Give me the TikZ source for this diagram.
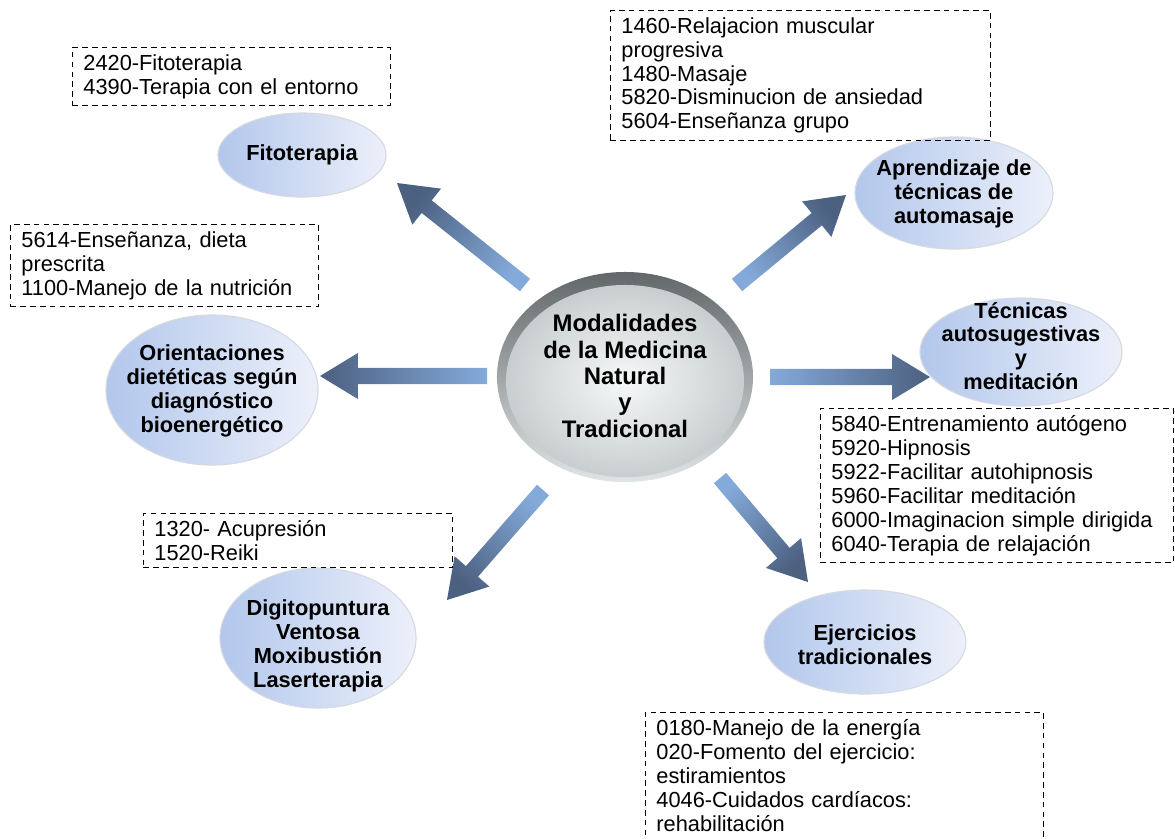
\documentclass[tikz,border=0pt]{standalone}
\usepackage{fontspec}
\setmainfont{Liberation Sans}
\usetikzlibrary{shapes.geometric,calc}

\definecolor{azulelipse}{RGB}{178,199,236}
\definecolor{blancoelipse}{RGB}{236,240,250}
\definecolor{bordeelipse}{RGB}{214,217,224}
\definecolor{flechaclara}{RGB}{132,170,218}
\definecolor{flechaoscura}{RGB}{76,96,128}
\definecolor{anillooscuro}{RGB}{98,104,106}
\definecolor{anilloclaro}{RGB}{224,228,229}
\definecolor{centroclaro}{RGB}{246,248,248}
\definecolor{centrogris}{RGB}{200,206,207}

\tikzset{
  modalidad/.style={ellipse, draw=bordeelipse, line width=0.8pt,
    left color=azulelipse, right color=blancoelipse, inner sep=0pt},
  rotulo/.style={align=center, inner sep=0pt,
    font=\bfseries\fontsize{15.5}{17}\selectfont},
  codigos/.style={draw, dash pattern=on 4pt off 3pt, line width=0.6pt,
    anchor=north west, inner xsep=0.275cm, inner ysep=5pt, align=left,
    font=\fontsize{15.5}{17}\selectfont}
}

% flecha gruesa: cola, punta, angulo del sombreado
\newcommand{\flecha}[3]{%
  \path ($(#2)!27pt!(#1)$) coordinate (cuello);
  \shade[bottom color=flechaclara, top color=flechaoscura, shading angle=#3]
    ($(#1)!5.7pt!90:(#2)$) -- ($(cuello)!5.7pt!-90:(#1)$)
    -- ($(cuello)!16.4pt!-90:(#1)$) -- (#2) -- ($(cuello)!16.4pt!90:(#1)$)
    -- ($(cuello)!5.7pt!90:(#1)$) -- ($(#1)!5.7pt!-90:(#2)$) -- cycle;
}

\begin{document}
\begin{tikzpicture}[x=0.025cm, y=-0.025cm]
\useasboundingbox (0,0) rectangle (1175,838);
\clip (0,0) rectangle (1175,838);

% flechas
\coordinate (fito-cola) at (525,285);
\coordinate (fito-punta) at (397,183);
\coordinate (apren-cola) at (737,285);
\coordinate (apren-punta) at (846,195);
\coordinate (tecn-cola) at (770,377);
\coordinate (tecn-punta) at (930,377);
\coordinate (orient-cola) at (487,376);
\coordinate (orient-punta) at (320,376);
\coordinate (digito-cola) at (543,490);
\coordinate (digito-punta) at (447,600);
\coordinate (ejerc-cola) at (720,478);
\coordinate (ejerc-punta) at (808,582);

\flecha{fito-cola}{fito-punta}{51.4}
\flecha{apren-cola}{apren-punta}{-50.5}
\flecha{tecn-cola}{tecn-punta}{-90}
\flecha{orient-cola}{orient-punta}{90}
\flecha{digito-cola}{digito-punta}{138.9}
\flecha{ejerc-cola}{ejerc-punta}{220.2}

% centro
\node[ellipse, inner sep=0pt, minimum width=6.4cm, minimum height=5.25cm,
  top color=anillooscuro, bottom color=anilloclaro] (centro) at (625,377) {};
\node[ellipse, inner sep=0pt, minimum width=5.95cm, minimum height=4.8cm,
  inner color=centroclaro, outer color=centrogris] (centro-int) at (625,381) {};
\node[rotulo, font=\bfseries\fontsize{17}{18.8}\selectfont] (titulo) at (625,376)
  {Modalidades\\de la Medicina\\Natural\\y\\Tradicional};

% modalidades
\node[modalidad, minimum width=4.2cm, minimum height=2.1cm] (fito) at (302,155) {};
\node[rotulo] (fito-txt) at (fito) {Fitoterapia};

\node[modalidad, minimum width=4.95cm, minimum height=2.8cm] (apren) at (954,193) {};
\node[rotulo] (apren-txt) at (954,194) {Aprendizaje de\\técnicas de\\automasaje};

\node[modalidad, minimum width=5.05cm, minimum height=2.7cm] (tecn) at (1021,352) {};
\node[rotulo] (tecn-txt) at (1021,346) {Técnicas\\autosugestivas\\y\\meditación};

\node[modalidad, minimum width=5.3cm, minimum height=3.75cm] (orient) at (212,390) {};
\node[rotulo] (orient-txt) at (212,391)
  {Orientaciones\\dietéticas según\\diagnóstico\\bioenergético};

\node[modalidad, minimum width=4.9cm, minimum height=3.5cm] (digito) at (318,638) {};
\node[rotulo] (digito-txt) at (318,646)
  {Digitopuntura\\Ventosa\\Moxibustión\\Laserterapia};

\node[modalidad, minimum width=5.05cm, minimum height=2.6cm] (ejerc) at (865,642) {};
\node[rotulo] (ejerc-txt) at (865,645) {Ejercicios\\tradicionales};

% codigos
\node[codigos, text width=7.4cm] (cod-fito) at (72,47)
  {2420-Fitoterapia\\4390-Terapia con el entorno};
\node[codigos, text width=8.95cm] (cod-apren) at (610,10)
  {1460-Relajacion muscular\\progresiva\\1480-Masaje\\5820-Disminucion de ansiedad\\5604-Enseñanza grupo};
\node[codigos, text width=7.15cm] (cod-orient) at (10,224)
  {5614-Enseñanza, dieta\\prescrita\\1100-Manejo de la nutrición};
\node[codigos, text width=8.275cm] (cod-tecn) at (820,408)
  {5840-Entrenamiento autógeno\\5920-Hipnosis\\5922-Facilitar autohipnosis\\5960-Facilitar meditación\\6000-Imaginacion simple dirigida\\6040-Terapia de relajación};
\node[codigos, text width=7.175cm] (cod-digito) at (143,513)
  {1320- Acupresión\\1520-Reiki};
% la caja sigue mas abajo del borde
\node[codigos, text width=9.4cm] (cod-ejerc) at (645,712)
  {0180-Manejo de la energía\\020-Fomento del ejercicio:\\estiramientos\\4046-Cuidados cardíacos:\\rehabilitación\\\mbox{}};
\end{tikzpicture}
\end{document}
